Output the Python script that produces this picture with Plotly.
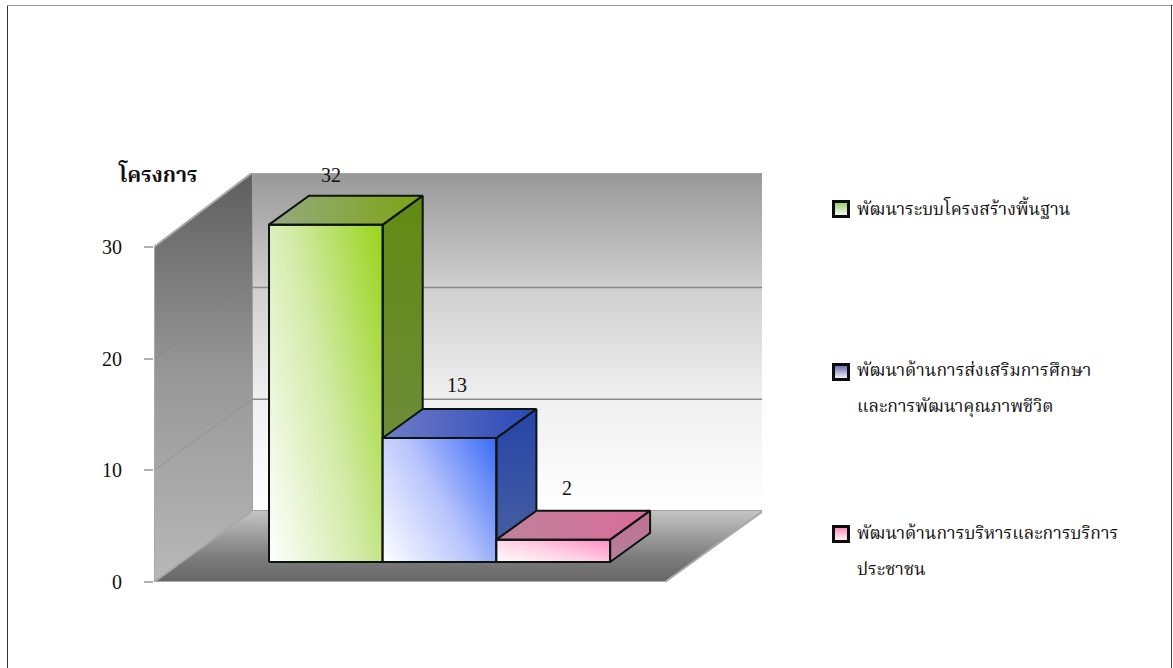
import numpy as np
import plotly.graph_objects as go

W, H = 1173, 668

# ---------- data ----------
series_names = ["พัฒนาระบบโครงสร้างพื้นฐาน",
                "พัฒนาด้านการส่งเสริมการศึกษาและการพัฒนาคุณภาพชีวิต",
                "พัฒนาด้านการบริหารและการบริการประชาชน"]
value_labels = ["32", "13", "2"]
drawn_heights = [30.2, 11.1, 2.0]      # heights as drawn in the picture
y_ticks = [0, 10, 20, 30]
axis_title = "โครงการ"
legend_lines = [["พัฒนาระบบโครงสร้างพื้นฐาน"],
                ["พัฒนาด้านการส่งเสริมการศึกษา", "และการพัฒนาคุณภาพชีวิต"],
                ["พัฒนาด้านการบริหารและการบริการ", "ประชาชน"]]

# ---------- style / projection ----------
FONT = "Liberation Serif, Noto Serif Thai, Noto Sans Thai, DejaVu Sans, serif"
PX_X, PX_Y = 511.0, 11.17              # pixels per x unit / per value unit
DX, DY = 98 / PX_X, 71 / PX_Y          # shift of full depth in axis units
YMAX = 30.0
WALL_TOP = 30.27                       # the back wall is drawn slightly taller
GAP, BAR_W = 0.171, 0.2225
D0, D1 = 0.282, 0.69
L, R, T, B = 154, 762, 173, 582
xr = [0, (R - L) / PX_X]
yr = [0, (B - T) / PX_Y]

front_scales = [
    [[0, "#ffffff"], [0.5, "#d2eaa6"], [1, "#98d41a"]],
    [[0, "#ffffff"], [0.5, "#b8c4fc"], [1, "#3a6cf6"]],
    [[0, "#ffffff"], [0.5, "#ffd0e4"], [1, "#ff8ec4"]],
]
front_mix = [(0.62, 0.38), (0.62, 0.38), (0.55, 0.45)]
top_colors = [("#93ab80", "#7fa312"), ("#707cc8", "#2a48b8"), ("#bf8299", "#d96c9a")]
side_colors = [("#628a12", "#728c4c"), ("#2644a8", "#4a62a0"), ("#c06e92", "#b5829a")]
label_shift = [(5, 50), (17, 53), (14, 52)]
legend_y = [[207], [370, 407], [533, 569]]
swatch_y = [209, 372, 534]
swatch_c = ["#94c95c", "#6060aa", "#ff7fb6"]


def proj(t, v, d):
    return t + d * DX, v + d * DY


def poly(points, **kw):
    pts = [proj(*p) for p in points] + [proj(*points[0])]
    return go.Scatter(x=[p[0] for p in pts], y=[p[1] for p in pts], mode="lines",
                      fill="toself", hoverinfo="skip", showlegend=False, **kw)


def vgrad(stops, start, stop):
    return dict(type="vertical", colorscale=stops, start=start, stop=stop)


fig = go.Figure()
EDGE = dict(color="#a3a3a3", width=2)

# back wall
fig.add_trace(poly([(0, 0, 1), (1, 0, 1), (1, WALL_TOP, 1), (0, WALL_TOP, 1)], line=EDGE,
                   fillgradient=vgrad([[0, "#ffffff"], [0.33, "#f0f0f0"], [0.66, "#cfcfcf"], [1, "#989898"]],
                                      DY, WALL_TOP + DY)))
# floor
fig.add_trace(poly([(0, 0, 0), (1, 0, 0), (1, 0, 1), (0, 0, 1)], line=dict(width=0),
                   fillgradient=vgrad([[0, "#666666"], [0.35, "#7c7c7c"], [1, "#c4c4c4"]], 0, DY)))
# left wall
fig.add_trace(poly([(0, 0, 0), (0, 0, 1), (0, WALL_TOP, 1), (0, YMAX, 0)], line=dict(width=0),
                   fillgradient=vgrad([[0, "#b8b8b8"], [0.5, "#989898"], [1, "#5e5e5e"]], 0, WALL_TOP + DY)))
# grid lines
for v in y_ticks[1:-1]:
    a, b, c = proj(0, v, 0), proj(0, v, 1), proj(1, v, 1)
    fig.add_trace(go.Scatter(x=[a[0], b[0]], y=[a[1], b[1]], mode="lines", hoverinfo="skip", showlegend=False,
                             line=dict(color="#8a8a8a", width=1), opacity=0.6))
    fig.add_trace(go.Scatter(x=[b[0], c[0]], y=[b[1], c[1]], mode="lines", hoverinfo="skip", showlegend=False,
                             line=dict(color="#8a8a8a", width=1.5)))
# wall edges
for p, q in [((0, 0, 0), (1, 0, 0)), ((1, 0, 0), (1, 0, 1)), ((0, 0, 0), (0, YMAX, 0)),
             ((0, YMAX, 0), (0, WALL_TOP, 1)), ((0, 0, 0), (0, 0, 1))]:
    a, b = proj(*p), proj(*q)
    fig.add_trace(go.Scatter(x=[a[0], b[0]], y=[a[1], b[1]], mode="lines", hoverinfo="skip", showlegend=False,
                             line=dict(color="#a8a8a8", width=2)))

# bars: one overlaid pair of axes each, so that later bars hide earlier ones
INK = dict(color="#0c1410", width=2)
for i, h in enumerate(drawn_heights):
    n = i + 2
    xa, ya = f"x{n}", f"y{n}"
    t0 = GAP + i * BAR_W
    t1 = t0 + BAR_W
    # right side
    fig.add_trace(poly([(t1, 0, D0), (t1, 0, D1), (t1, h, D1), (t1, h, D0)], line=INK, xaxis=xa, yaxis=ya,
                       fillgradient=vgrad([[0, side_colors[i][1]], [1, side_colors[i][0]]], D0 * DY, h + D1 * DY)))
    # top
    ax0 = proj(t0, h, D0)[0]
    ax1 = proj(t1, h, D1)[0]
    fig.add_trace(poly([(t0, h, D0), (t1, h, D0), (t1, h, D1), (t0, h, D1)], line=INK, xaxis=xa, yaxis=ya,
                       fillgradient=dict(type="horizontal",
                                         colorscale=[[0, top_colors[i][0]], [1, top_colors[i][1]]],
                                         start=ax0, stop=ax1)))
    # front (diagonal shading)
    x0, y0 = proj(t0, 0, D0)
    x1, y1 = proj(t1, h, D0)
    N = 24
    ex, ey = np.linspace(x0, x1, N + 1), np.linspace(y0, y1, N + 1)
    u = (np.arange(N) + 0.5) / N
    z = [[front_mix[i][0] * a + front_mix[i][1] * b for a in u] for b in u]
    fig.add_trace(go.Heatmap(x=ex, y=ey, z=z, zmin=0, zmax=1, zsmooth="best", showscale=False, hoverinfo="skip",
                             colorscale=front_scales[i], xaxis=xa, yaxis=ya))
    pts = [proj(t0, 0, D0), proj(t1, 0, D0), proj(t1, h, D0), proj(t0, h, D0), proj(t0, 0, D0)]
    fig.add_trace(go.Scatter(x=[p[0] for p in pts], y=[p[1] for p in pts], mode="lines", line=INK,
                             hoverinfo="skip", showlegend=False, xaxis=xa, yaxis=ya))

# legend swatches on a page-wide pair of axes
for c, sy in zip(swatch_c, swatch_y):
    fig.add_trace(go.Scatter(x=[841], y=[sy], mode="markers", xaxis="x5", yaxis="y5", hoverinfo="skip",
                             showlegend=False,
                             marker=dict(symbol="square", size=15, color=c,
                                         gradient=dict(type="vertical", color="#ffffff"),
                                         line=dict(color="#0c0c0c", width=3))))

dom_x = [L / W, R / W]
dom_y = [1 - B / H, 1 - T / H]
layout = dict(
    width=W, height=H, margin=dict(l=0, r=0, t=0, b=0, pad=0, autoexpand=False), paper_bgcolor="white",
    plot_bgcolor="rgba(0,0,0,0)",
    showlegend=False, font=dict(family=FONT, size=20, color="#111111"),
    xaxis=dict(domain=dom_x, range=xr, visible=False, fixedrange=True),
    yaxis=dict(domain=dom_y, range=yr, tickvals=y_ticks, ticks="outside", ticklen=9, tickwidth=1.5, tickcolor="#b0b0b0",
               showgrid=False, zeroline=False, showline=False, tickfont=dict(family=FONT, size=20, color="#111111"),
               ticklabelstandoff=18, fixedrange=True),
    xaxis5=dict(domain=[0, 1], range=[0, W], visible=False, anchor="y5", fixedrange=True),
    yaxis5=dict(domain=[0, 1], range=[H, 0], visible=False, anchor="x5", fixedrange=True),
)
for n in (2, 3, 4):
    layout[f"xaxis{n}"] = dict(domain=dom_x, range=xr, visible=False, overlaying="x", anchor=f"y{n}", fixedrange=True)
    layout[f"yaxis{n}"] = dict(domain=dom_y, range=yr, visible=False, overlaying="y", anchor=f"x{n}", fixedrange=True)
fig.update_layout(**layout)

# value labels
for i, (lab, h) in enumerate(zip(value_labels, drawn_heights)):
    t = GAP + (i + 0.5) * BAR_W
    x, y = proj(t, h, D0)
    fig.add_annotation(x=x, y=y, xref="x", yref="y", text=lab, showarrow=False, xshift=label_shift[i][0],
                       yshift=label_shift[i][1], font=dict(family=FONT, size=20, color="#111111"))

fig.add_annotation(x=116 / W, y=1 - 173 / H, xref="paper", yref="paper", text=f"<b>{axis_title}</b>", showarrow=False,
                   xanchor="left", yanchor="middle", font=dict(family=FONT, size=21, color="#111111"))
for lines, ys in zip(legend_lines, legend_y):
    for txt, y in zip(lines, ys):
        fig.add_annotation(x=854.5 / W, y=1 - y / H, xref="paper", yref="paper", text=txt, showarrow=False,
                           xanchor="left", yanchor="middle", font=dict(family=FONT, size=17.5, color="#111111"))

# page frame
frame = dict(type="line", xref="paper", yref="paper")
fig.add_shape(x0=7.5 / W, x1=7.5 / W, y0=0, y1=1 - 5 / H, line=dict(color="#333333", width=1), **frame)
fig.add_shape(x0=7 / W, x1=1, y0=1 - 5.5 / H, y1=1 - 5.5 / H, line=dict(color="#999999", width=1), **frame)
fig.add_shape(x0=1171.5 / W, x1=1171.5 / W, y0=0, y1=1 - 5 / H, line=dict(color="#444444", width=1), **frame)

fig.write_html("out.html", config=dict(displayModeBar=False),
               post_script="document.body.style.margin='0';document.body.style.overflow='hidden';")
